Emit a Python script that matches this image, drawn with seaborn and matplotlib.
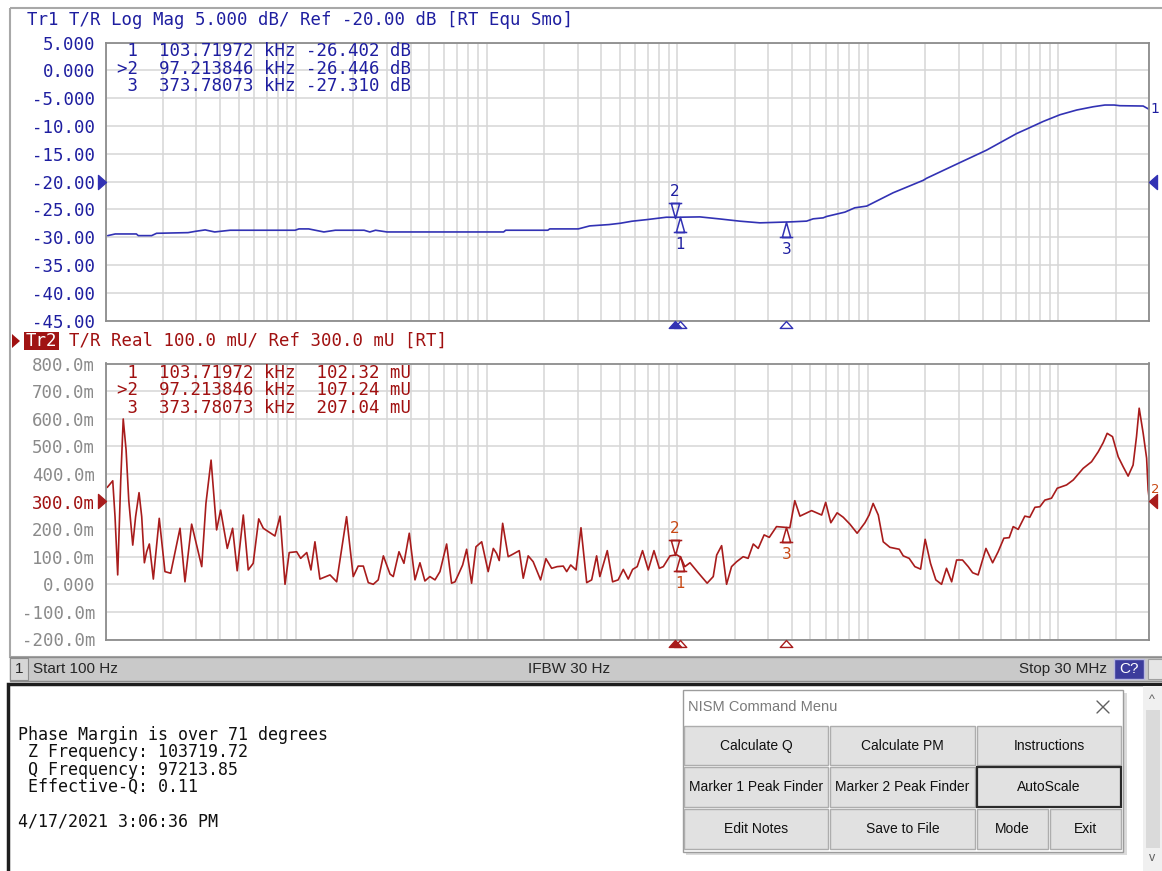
import numpy as np
import pandas as pd
import matplotlib
matplotlib.use("Agg")
import matplotlib.pyplot as plt
import matplotlib.transforms as mtransforms
from matplotlib.patches import Rectangle, Polygon
from matplotlib.path import Path
from matplotlib.ticker import LogLocator, NullFormatter
import seaborn as sns

# Trace 1 (T/R Log Mag, dB), x read as log10(Hz)
tr1_logf = [2.012, 2.051, 2.162, 2.172, 2.242, 2.268, 2.433, 2.473, 2.523, 2.573,
            2.654, 2.995, 3.015, 3.066, 3.146, 3.206, 3.357, 3.387, 3.417, 3.477,
            4.089, 4.100, 4.321, 4.331, 4.481, 4.541, 4.642, 4.702, 4.762, 4.843,
            4.943, 4.993, 5.119, 5.224, 5.329, 5.434, 5.600, 5.679, 5.713, 5.766,
            5.784, 5.880, 5.932, 5.994, 6.133, 6.291, 6.308, 6.483, 6.623, 6.781,
            6.833, 6.920, 7.008, 7.096, 7.183, 7.244, 7.293, 7.322, 7.445, 7.477]
tr1_db = [-29.70, -29.40, -29.40, -29.70, -29.70, -29.28, -29.16, -28.92, -28.67, -29.04,
          -28.73, -28.73, -28.49, -28.49, -29.04, -28.73, -28.73, -29.04, -28.73, -29.04,
          -29.04, -28.73, -28.73, -28.49, -28.49, -27.95, -27.71, -27.47, -27.11, -26.81,
          -26.39, -26.40, -26.33, -26.70, -27.10, -27.40, -27.22, -27.09, -26.68, -26.50,
          -26.25, -25.47, -24.69, -24.39, -21.99, -19.75, -19.39, -16.57, -14.33, -11.34,
          -10.54, -9.17, -7.96, -7.11, -6.52, -6.21, -6.21, -6.33, -6.39, -7.00]

# Trace 2 (T/R Real, mU)
tr2_logf = [2.009, 2.038, 2.050, 2.064, 2.080, 2.093, 2.108, 2.122, 2.143, 2.158,
            2.176, 2.190, 2.204, 2.216, 2.230, 2.251, 2.282, 2.312, 2.342, 2.391,
            2.417, 2.452, 2.505, 2.527, 2.554, 2.583, 2.604, 2.639, 2.667, 2.691,
            2.723, 2.749, 2.775, 2.804, 2.828, 2.889, 2.916, 2.942, 2.964, 3.003,
            3.024, 3.056, 3.078, 3.099, 3.125, 3.178, 3.213, 3.265, 3.300, 3.326,
            3.353, 3.379, 3.405, 3.431, 3.458, 3.493, 3.510, 3.540, 3.566, 3.594,
            3.624, 3.650, 3.676, 3.702, 3.729, 3.755, 3.790, 3.816, 3.834, 3.856,
            3.874, 3.895, 3.921, 3.944, 3.974, 4.008, 4.035, 4.052, 4.066, 4.084,
            4.113, 4.140, 4.171, 4.192, 4.218, 4.244, 4.283, 4.311, 4.341, 4.370,
            4.402, 4.420, 4.441, 4.469, 4.495, 4.525, 4.551, 4.577, 4.594, 4.633,
            4.661, 4.690, 4.717, 4.743, 4.766, 4.790, 4.818, 4.848, 4.878, 4.906,
            4.927, 4.962, 4.997, 5.018, 5.040, 5.067, 5.110, 5.157, 5.189, 5.207,
            5.233, 5.259, 5.285, 5.312, 5.346, 5.372, 5.399, 5.425, 5.456, 5.483,
            5.521, 5.556, 5.591, 5.617, 5.644,
            5.705, 5.758, 5.779, 5.806, 5.839, 5.871, 5.906, 5.944, 5.985, 6.007,
            6.028, 6.055, 6.081, 6.116, 6.165, 6.186, 6.217, 6.247, 6.277, 6.301,
            6.329, 6.357, 6.387, 6.413, 6.440, 6.466, 6.497, 6.527, 6.550, 6.579,
            6.620, 6.655, 6.684, 6.714, 6.742, 6.763, 6.789, 6.824, 6.850, 6.877,
            6.903, 6.929, 6.964, 6.994, 7.043, 7.078, 7.130, 7.174, 7.209, 7.235,
            7.256, 7.284, 7.314, 7.340, 7.366, 7.392, 7.410, 7.424, 7.445, 7.463,
            7.471, 7.477]
tr2_mu = [351, 375, 245, 34, 378, 599, 487, 305, 142, 245,
          332, 245, 78, 118, 146, 19, 239, 46, 40, 203,
          9, 218, 64, 293, 450, 197, 269, 130, 203, 49,
          251, 52, 76, 237, 203, 175, 247, 0, 115, 118,
          94, 115, 52, 154, 19, 34, 9, 245, 28, 66,
          66, 6, 0, 16, 103, 37, 28, 118, 76, 185,
          16, 78, 12, 28, 16, 46, 146, 4, 9, 42,
          70, 127, 4, 136, 154, 46, 130, 112, 86, 221,
          100, 110, 122, 22, 103, 82, 16, 93, 58, 64,
          66, 46, 70, 52, 205, 6, 16, 103, 28, 122,
          9, 16, 54, 19, 54, 64, 122, 52, 122, 58,
          64, 103, 107, 98, 64, 78, 42, 4, 28, 106,
          140, 0, 64, 82, 100, 94, 146, 130, 179, 170,
          209, 207, 205, 303, 247,
          267, 251, 297, 223, 259, 243, 218, 185, 223, 251,
          293, 251, 154, 134, 127, 103, 94, 64, 55, 163,
          76, 16, 0, 58, 9, 88, 88, 64, 42, 34,
          130, 78, 118, 167, 169, 209, 199, 247, 243, 279,
          281, 305, 312, 348, 360, 378, 420, 444, 480, 513,
          547, 535, 462, 426, 392, 432, 535, 638, 547, 457,
          342, 308]

# markers
marker_ids = ["1", "2", "3"]
marker_khz = [103.71972, 97.213846, 373.78073]
marker_db = [-26.402, -26.446, -27.310]
marker_mu = [102.32, 107.24, 207.04]
active = 1  # marker 2 is the active one

db_ticks = [5, 0, -5, -10, -15, -20, -25, -30, -35, -40, -45]
mu_ticks = [800, 700, 600, 500, 400, 300, 200, 100, 0, -100, -200]
ref_db = -20
ref_mu = 300
start_hz = 100
stop_hz = 30e6

notes = ["Phase Margin is over 71 degrees",
         f" Z Frequency: {marker_khz[0] * 1000:.2f}",
         f" Q Frequency: {marker_khz[1] * 1000:.2f}",
         " Effective-Q: 0.11"]
timestamp = "4/17/2021 3:06:36 PM"

buttons = [["Calculate Q", "Calculate PM", "Instructions"],
           ["Marker 1 Peak Finder", "Marker 2 Peak Finder", "AutoScale"],
           ["Edit Notes", "Save to File", "Mode", "Exit"]]

# colours
blue = "#3232b4"
blue_txt = "#1e1ea0"
red = "#a81c1c"
red_txt = "#a01010"
mk_red = "#c84814"
grid_c = "#d6d6d6"
spine_c = "#8c8c8c"

sns.set_style("white")
plt.rcParams["font.family"] = ["DejaVu Sans Mono", "DejaVu Sans"]
MONO = 12.5
UI = ["Liberation Sans", "DejaVu Sans"]

W, H = 1162, 871
fig = plt.figure(figsize=(W / 100, H / 100), dpi=100)


def px_rect(x0, y0, x1, y1):
    return [x0 / W, 1 - y1 / H, (x1 - x0) / W, (y1 - y0) / H]


bg = fig.add_axes([0, 0, 1, 1], zorder=0)
bg.set_xlim(0, W)
bg.set_ylim(H, 0)
bg.axis("off")

ax1 = fig.add_axes(px_rect(105.5, 42.7, 1149.3, 320.7), zorder=2)
ax2 = fig.add_axes(px_rect(105.5, 363.5, 1149.3, 639.5), zorder=2)

fg = fig.add_axes([0, 0, 1, 1], zorder=5)
fg.set_xlim(0, W)
fg.set_ylim(H, 0)
fg.axis("off")
fg.patch.set_visible(False)

df1 = pd.DataFrame({"freq": 10 ** np.array(tr1_logf), "val": tr1_db})
df2 = pd.DataFrame({"freq": 10 ** np.array(tr2_logf), "val": tr2_mu})

sns.lineplot(data=df1, x="freq", y="val", ax=ax1, color=blue, lw=1.2, estimator=None, sort=False)
sns.lineplot(data=df2, x="freq", y="val", ax=ax2, color=red, lw=1.2, estimator=None, sort=False)


def tri_path(up=True, base=0.45, half=0.28):
    s = 1 if up else -1
    verts = [(0, 0), (-half, -s), (half, -s), (0, 0), (-base, -s), (base, -s)]
    codes = [Path.MOVETO, Path.LINETO, Path.LINETO, Path.CLOSEPOLY, Path.MOVETO, Path.LINETO]
    return Path(verts, codes)


axis_tri = Path([(0, 0), (-0.9, -1), (0.9, -1), (0, 0)],
                [Path.MOVETO, Path.LINETO, Path.LINETO, Path.CLOSEPOLY])
left_tri = Path([(0, 0), (-1, 0.88), (-1, -0.88), (0, 0)],
                [Path.MOVETO, Path.LINETO, Path.LINETO, Path.CLOSEPOLY])
right_tri = Path([(0, 0), (1, 0.88), (1, -0.88), (0, 0)],
                 [Path.MOVETO, Path.LINETO, Path.LINETO, Path.CLOSEPOLY])

for ax, vals, ticks, fmt, lim, ref, col, tcol, mcol in [
        (ax1, marker_db, db_ticks, lambda v: f"{v:.3f}" if abs(v) < 10 else f"{v:.2f}",
         (-45, 5), ref_db, blue, blue_txt, blue_txt),
        (ax2, marker_mu, mu_ticks, lambda v: "0.000" if v == 0 else f"{v:.1f}m",
         (-200, 800), ref_mu, red, red_txt, mk_red)]:
    ax.set_xscale("log")
    ax.set_xlim(start_hz, stop_hz)
    ax.set_ylim(*lim)
    ax.set_xlabel("")
    ax.set_ylabel("")
    ax.xaxis.set_major_locator(LogLocator(base=10, numticks=100))
    ax.xaxis.set_minor_locator(LogLocator(base=10, subs=np.arange(2, 10), numticks=100))
    ax.xaxis.set_major_formatter(NullFormatter())
    ax.xaxis.set_minor_formatter(NullFormatter())
    ax.tick_params(axis="x", which="both", length=0, labelbottom=False)
    ax.set_yticks(ticks, [fmt(v) for v in ticks])
    ax.tick_params(axis="y", length=0, pad=7.5, labelsize=MONO)
    ax.grid(True, which="major", color=grid_c, lw=1.1)
    ax.grid(True, which="minor", axis="x", color=grid_c, lw=1.1)
    ax.set_axisbelow(True)
    for sp in ax.spines.values():
        sp.set_color(spine_c)
        sp.set_linewidth(1.3)

    # tick label colours
    for lbl, v in zip(ax.get_yticklabels(), ticks):
        if ax is ax1:
            lbl.set_color(blue_txt)
        else:
            lbl.set_color(red_txt if v == ref else "#8a8a8a")

    # reference level arrows on both sides
    ybl = mtransforms.blended_transform_factory(ax.transAxes, ax.transData)
    ax.plot([0], [ref], marker=left_tri, ms=11.5, color=col, transform=ybl, clip_on=False, zorder=6)
    ax.plot([1], [ref], marker=right_tri, ms=11.5, color=col, transform=ybl, clip_on=False, zorder=6)

    # markers on the trace and on the frequency axis
    xbl = mtransforms.blended_transform_factory(ax.transData, ax.transAxes)
    for i, (mid, khz, v) in enumerate(zip(marker_ids, marker_khz, vals)):
        f = khz * 1000
        if i == active:
            ax.plot([f], [v], marker=tri_path(up=False), ms=21.6, mfc="none", mec=col, mew=1.1, zorder=6)
            ax.annotate(mid, (f, v), xytext=(0, 19), textcoords="offset points",
                        ha="center", va="center", color=mcol, fontsize=11, family="DejaVu Sans")
        else:
            ax.plot([f], [v], marker=tri_path(up=True), ms=21.6, mfc="none", mec=col, mew=1.1, zorder=6)
            ax.annotate(mid, (f, v), xytext=(0, -19.5), textcoords="offset points",
                        ha="center", va="center", color=mcol, fontsize=11, family="DejaVu Sans")
    order = [i for i in range(len(marker_ids)) if i != active] + [active]
    for i in order:
        f = marker_khz[i] * 1000
        ax.plot([f], [0], marker=axis_tri, ms=10, transform=xbl, clip_on=False, zorder=6,
                mfc=col if i == active else "white", mec=col, mew=1.0)

# trace number at the right end of each trace
ax1.annotate("1", (stop_hz, tr1_db[-1]), xytext=(1, 0), textcoords="offset points",
             ha="left", va="center", color=blue_txt, fontsize=10, family="DejaVu Sans",
             annotation_clip=False)
ax2.annotate("2", (stop_hz, tr2_mu[-1]), xytext=(1, 7), textcoords="offset points",
             ha="left", va="center", color=mk_red, fontsize=9.5, family="DejaVu Sans",
             annotation_clip=False)

# headers
fg.text(27, 20, "Tr1 T/R Log Mag 5.000 dB/ Ref -20.00 dB [RT Equ Smo]",
        color=blue_txt, fontsize=MONO, va="center")
fg.add_patch(Polygon([(12, 334), (12, 348), (20, 341)], closed=True, fc=red_txt, ec="none"))
fg.add_patch(Rectangle((24, 332), 35, 18, fc="#a01414", ec="none"))
fg.text(26, 341, "Tr2", color="white", fontsize=MONO, va="center")
fg.text(27 + 4 * 10.44, 341, "T/R Real 100.0 mU/ Ref 300.0 mU [RT]",
        color=red_txt, fontsize=MONO, va="center")

# marker readouts
for i, (mid, khz, vdb, vmu) in enumerate(zip(marker_ids, marker_khz, marker_db, marker_mu)):
    pre = ">" if i == active else " "
    fstr = f"{khz:.8g}".ljust(9, "0")[:9] if khz < 100 else f"{khz:.5f}"
    fg.text(117, 51 + i * 17.5, f"{pre}{mid}  {fstr} kHz {vdb:>7.3f} dB",
            color=blue_txt, fontsize=MONO, va="center")
    fg.text(117, 373 + i * 17.3, f"{pre}{mid}  {fstr} kHz {vmu:>7.2f} mU",
            color=red_txt, fontsize=MONO, va="center")

# chart window frame
bg.add_patch(Rectangle((10, 8), 1160, 649, fill=False, ec="#a8a8a8", lw=1.5))

# status bar
bg.add_patch(Rectangle((10, 657), 1160, 24, fc="#c9c9c9", ec="#8c8c8c", lw=1))
bg.add_patch(Rectangle((10, 658), 18, 22, fc="#d6d6d6", ec="#8c8c8c", lw=0.8))
bg.text(15, 669, "1", fontsize=11, family=UI, va="center")
bg.text(33, 669, f"Start {start_hz} Hz", fontsize=11, family=UI, va="center")
bg.text(528, 669, "IFBW 30 Hz", fontsize=11, family=UI, va="center")
bg.text(1107, 669, f"Stop {stop_hz / 1e6:.0f} MHz", fontsize=11, family=UI, va="center", ha="right")
bg.add_patch(Rectangle((1114, 659), 30, 20, fc="#3c3c9c", ec="#b8b8e0", lw=1))
bg.text(1129, 669, "C?", fontsize=11, family=UI, va="center", ha="center", color="white")
bg.add_patch(Rectangle((1148, 659), 16, 20, fc="#e6e6e6", ec="#a0a0a0", lw=0.8))

# notes panel
bg.add_patch(Rectangle((8, 684), 1160, 190, fc="white", ec="#1e1e1e", lw=2.5))
for i, line in enumerate(notes):
    bg.text(18, 735 + i * 17.3, line, fontsize=12, va="center", color="#101010")
bg.text(18, 821, timestamp, fontsize=12, va="center", color="#101010")

# scrollbar
bg.add_patch(Rectangle((1143, 686), 20, 186, fc="#f0f0f0", ec="none"))
bg.add_patch(Rectangle((1146, 710), 14, 138, fc="#dadada", ec="none"))
bg.text(1152, 700, "^", fontsize=9, family=UI, ha="center", va="center", color="#606060")
bg.text(1152, 858, "v", fontsize=9, family=UI, ha="center", va="center", color="#606060")

# command menu dialog
fg.add_patch(Rectangle((686, 693), 441, 162, fc="#b0b0b0", ec="none", alpha=0.45))
fg.add_patch(Rectangle((683, 690), 440, 162, fc="white", ec="#9c9c9c", lw=1))
fg.text(688, 707, "NISM Command Menu", fontsize=10.5, family=UI, va="center", color="#7a7a7a")
fg.plot([1097, 1109], [701, 713], color="#606060", lw=1)
fg.plot([1097, 1109], [713, 701], color="#606060", lw=1)
rows_y = [(726, 765), (767, 807), (809, 849)]
cols3 = [(684, 828), (830, 975), (977, 1121)]
cols4 = [(684, 828), (830, 975), (977, 1048), (1050, 1121)]
for (y0, y1), row in zip(rows_y, buttons):
    cols = cols3 if len(row) == 3 else cols4
    for (x0, x1), lab in zip(cols, row):
        strong = lab == "AutoScale"
        fg.add_patch(Rectangle((x0, y0), x1 - x0, y1 - y0, fc="#e1e1e1",
                               ec="#2a2a2a" if strong else "#adadad", lw=1.6 if strong else 1))
        fg.text((x0 + x1) / 2, (y0 + y1) / 2, lab, fontsize=10, family=UI,
                ha="center", va="center", color="#101010")

fig.savefig("out.png", dpi=100)
